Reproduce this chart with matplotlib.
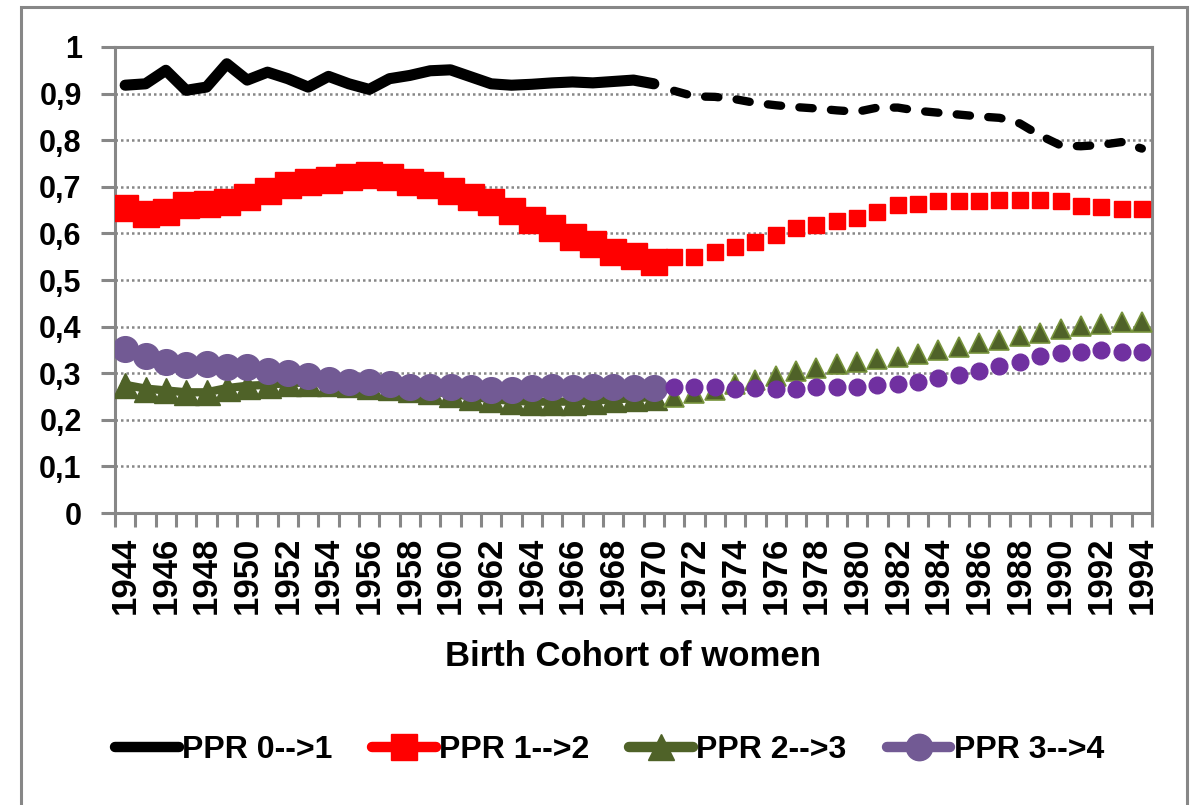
import numpy as np
import matplotlib.pyplot as plt
from matplotlib.lines import Line2D
from matplotlib.patches import Rectangle

plt.rcParams['font.family'] = ['Liberation Sans', 'DejaVu Sans']
plt.rcParams['font.weight'] = 'bold'

grey = '#878787'

years = list(range(1944, 1995))
years_obs = list(range(1944, 1971))
years_proj = list(range(1971, 1995))

# observed cohorts 1944-1970
ppr01_obs = [0.918, 0.921, 0.950, 0.907, 0.914, 0.964, 0.929, 0.946, 0.932, 0.914,
             0.937, 0.921, 0.909, 0.932, 0.939, 0.949, 0.951, 0.936, 0.921, 0.918,
             0.920, 0.923, 0.925, 0.923, 0.926, 0.929, 0.921]
ppr12_obs = [0.654, 0.641, 0.645, 0.660, 0.664, 0.667, 0.679, 0.692, 0.703, 0.710,
             0.714, 0.721, 0.726, 0.722, 0.711, 0.703, 0.692, 0.679, 0.667, 0.649,
             0.629, 0.611, 0.592, 0.577, 0.561, 0.551, 0.539]
ppr23_obs = [0.275, 0.267, 0.263, 0.259, 0.259, 0.268, 0.273, 0.275, 0.279, 0.280,
             0.280, 0.277, 0.273, 0.270, 0.266, 0.261, 0.256, 0.250, 0.244, 0.241,
             0.239, 0.239, 0.239, 0.241, 0.244, 0.246, 0.249]
ppr34_obs = [0.351, 0.336, 0.325, 0.318, 0.320, 0.313, 0.313, 0.304, 0.300, 0.293,
             0.286, 0.282, 0.282, 0.277, 0.271, 0.270, 0.270, 0.268, 0.264, 0.264,
             0.268, 0.270, 0.268, 0.271, 0.271, 0.268, 0.268]

# projected cohorts 1971-1994
ppr01_proj = [0.906, 0.894, 0.893, 0.888, 0.880, 0.875, 0.871, 0.868, 0.864, 0.861,
              0.870, 0.870, 0.863, 0.859, 0.855, 0.851, 0.848, 0.836, 0.810, 0.789,
              0.787, 0.790, 0.796, 0.782]
ppr12_proj = [0.549, 0.550, 0.561, 0.570, 0.581, 0.596, 0.611, 0.619, 0.627, 0.634,
              0.646, 0.661, 0.664, 0.669, 0.669, 0.669, 0.672, 0.672, 0.672, 0.669,
              0.659, 0.656, 0.652, 0.652]
ppr23_proj = [0.250, 0.257, 0.263, 0.277, 0.285, 0.295, 0.304, 0.311, 0.319, 0.324,
              0.331, 0.334, 0.341, 0.349, 0.356, 0.365, 0.372, 0.379, 0.386, 0.394,
              0.402, 0.406, 0.410, 0.410]
ppr34_proj = [0.270, 0.270, 0.270, 0.266, 0.268, 0.266, 0.266, 0.270, 0.270, 0.270,
              0.274, 0.276, 0.281, 0.289, 0.296, 0.304, 0.316, 0.324, 0.336, 0.343,
              0.346, 0.350, 0.345, 0.345]

labels = ['PPR 0-->1', 'PPR 1-->2', 'PPR 2-->3', 'PPR 3-->4']

xo = [years.index(y) for y in years_obs]
xp = [years.index(y) for y in years_proj]

fig = plt.figure(figsize=(11.97, 8.05), dpi=100)
ax = fig.add_axes([115/1197, 1-513/805, (1152-115)/1197, (513-47)/805])

# outer chart frame
fig.patches.append(Rectangle((21/1197, -0.02), (1187-21)/1197, 1.02-7/805,
                             transform=fig.transFigure, fill=False,
                             edgecolor=grey, lw=2.2))

# observed
ax.plot(xo, ppr01_obs, color='black', lw=8, solid_capstyle='round',
        solid_joinstyle='round', zorder=5)
ax.plot(xo, ppr12_obs, color='#FF0000', lw=6, marker='s', ms=18.5, zorder=3)
ax.plot(xo, ppr23_obs, color='#4F6228', lw=6, marker='^', ms=18, zorder=3)
ax.plot(xo, ppr34_obs, color='#725A94', lw=6, marker='o', ms=18.5, zorder=4)

# projected
ax.plot(xp, ppr01_proj, color='black', lw=6, linestyle=(0, (1.6, 2.2)),
        dash_capstyle='round', zorder=5)
ax.plot(xp, ppr12_proj, ls='none', marker='s', ms=11, color='#FF0000', zorder=3)
ax.plot(xp, ppr23_proj, ls='none', marker='^', ms=14, color='#4F6228',
        mec='#77933C', mew=1.2, zorder=3)
ax.plot(xp, ppr34_proj, ls='none', marker='o', ms=12, color='#7030A0', zorder=4)

ax.set_xlim(-0.5, len(years) - 0.5)
ax.set_ylim(0, 1)

ax.set_xticks(range(0, len(years), 2))
ax.set_xticklabels([str(y) for y in years[::2]], rotation=90, fontsize=25)
ax.set_xticks(np.arange(-0.5, len(years), 1), minor=True)
ax.tick_params(axis='x', which='major', length=0, pad=17)
ax.tick_params(axis='x', which='minor', length=10, width=2.2, color=grey)

yt = np.round(np.arange(0, 1.01, 0.1), 1)
ax.set_yticks(yt)
ax.set_yticklabels([('%g' % v).replace('.', ',') for v in yt], fontsize=22)
ax.tick_params(axis='y', length=10, width=2.2, color=grey, pad=14)

for v in yt[1:-1]:
    ax.axhline(v, color=grey, lw=1.8, ls=(0, (1, 1.2)), zorder=1)

for s in ax.spines.values():
    s.set_color(grey)
    s.set_linewidth(2.2)

fig.text(633/1197, 1-656/805, 'Birth Cohort of women', ha='center', va='center',
         fontsize=25, fontweight='bold')

handles = [
    Line2D([], [], color='black', lw=7.5, solid_capstyle='round'),
    Line2D([], [], color='#FF0000', lw=7.5, marker='s', ms=19, solid_capstyle='round'),
    Line2D([], [], color='#4F6228', lw=7.5, marker='^', ms=19, solid_capstyle='round'),
    Line2D([], [], color='#725A94', lw=7.5, marker='o', ms=19, solid_capstyle='round'),
]
fig.legend(handles, labels, loc='center', bbox_to_anchor=(0.509, 1-750/805), ncol=4,
           frameon=False, fontsize=23, handlelength=2.0, handletextpad=0.1,
           columnspacing=1.25, borderpad=0)

fig.savefig('out.png', dpi=100)
